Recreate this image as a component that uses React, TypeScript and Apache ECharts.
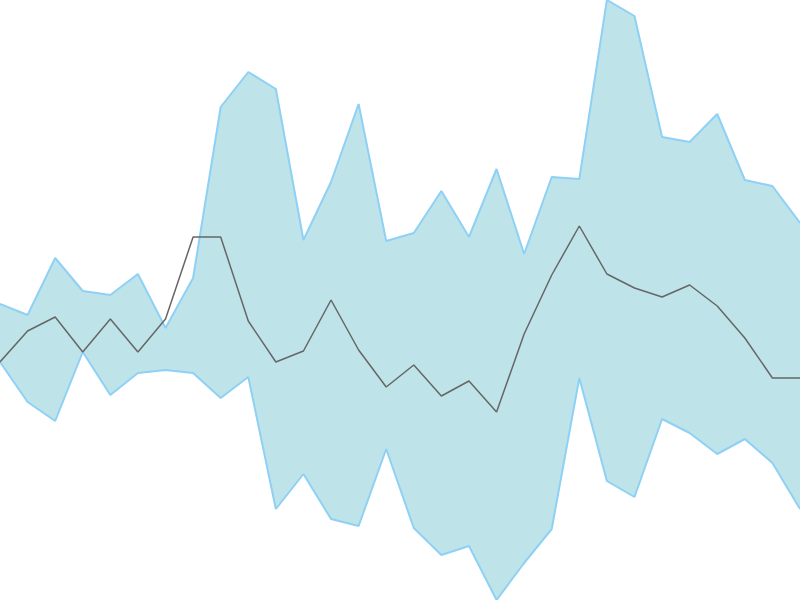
import { useEffect, useRef } from 'react'
import * as echarts from 'echarts'

const categories = [
  '1', '2', '3', '4', '5', '6', '7', '8', '9', '10',
  '11', '12', '13', '14', '15', '16', '17', '18', '19', '20',
  '21', '22', '23', '24', '25', '26', '27', '28', '29', '30'
]

const upperValues = [
  296, 285, 342, 309, 305, 326, 272, 322, 493, 528,
  511, 360, 418, 496, 359, 367, 409, 363, 431, 346,
  423, 421, 600, 584, 463, 458, 486, 420, 414, 377
]

const lowerValues = [
  238, 198, 179, 248, 205, 227, 230, 227, 202, 223,
  91, 126, 81, 74, 151, 72, 45, 54, 0, 37,
  71, 222, 119, 103, 181, 167, 146, 161, 137, 91
]

const meanValues = [
  238, 269, 283, 248, 281, 248, 281, 363, 363, 279,
  238, 249, 300, 250, 213, 235, 204, 219, 188, 266,
  325, 374, 326, 312, 303, 315, 294, 262, 222, 222
]

const bandColor = '#bee4e9'
const edgeColor = '#8fd0f5'

function App() {
  const chartRef = useRef<HTMLDivElement>(null)

  useEffect(() => {
    if (!chartRef.current) return
    const chart = echarts.init(chartRef.current, undefined, { renderer: 'svg' })

    chart.setOption({
      animation: false,
      grid: { left: 0, right: 0, top: 0, bottom: 0 },
      xAxis: {
        type: 'category',
        data: categories,
        boundaryGap: false,
        show: false
      },
      yAxis: {
        type: 'value',
        min: 0,
        max: 600,
        show: false
      },
      series: [
        {
          name: 'Lower',
          type: 'line',
          stack: 'band',
          data: lowerValues,
          symbol: 'none',
          z: 3,
          lineStyle: { color: edgeColor, width: 2 }
        },
        {
          name: 'Upper',
          type: 'line',
          stack: 'band',
          data: upperValues.map((v, i) => v - lowerValues[i]),
          symbol: 'none',
          z: 2,
          lineStyle: { color: edgeColor, width: 2 },
          areaStyle: { color: bandColor, opacity: 1 }
        },
        {
          name: 'Mean',
          type: 'line',
          data: meanValues,
          symbol: 'none',
          z: 4,
          lineStyle: { color: '#666666', width: 1.5 }
        }
      ]
    })

    return () => {
      chart.dispose()
    }
  }, [])

  return (
    <div
      ref={chartRef}
      style={{ position: 'absolute', left: 0, top: 0, width: '800px', height: '600px' }}
    />
  )
}

export default App
